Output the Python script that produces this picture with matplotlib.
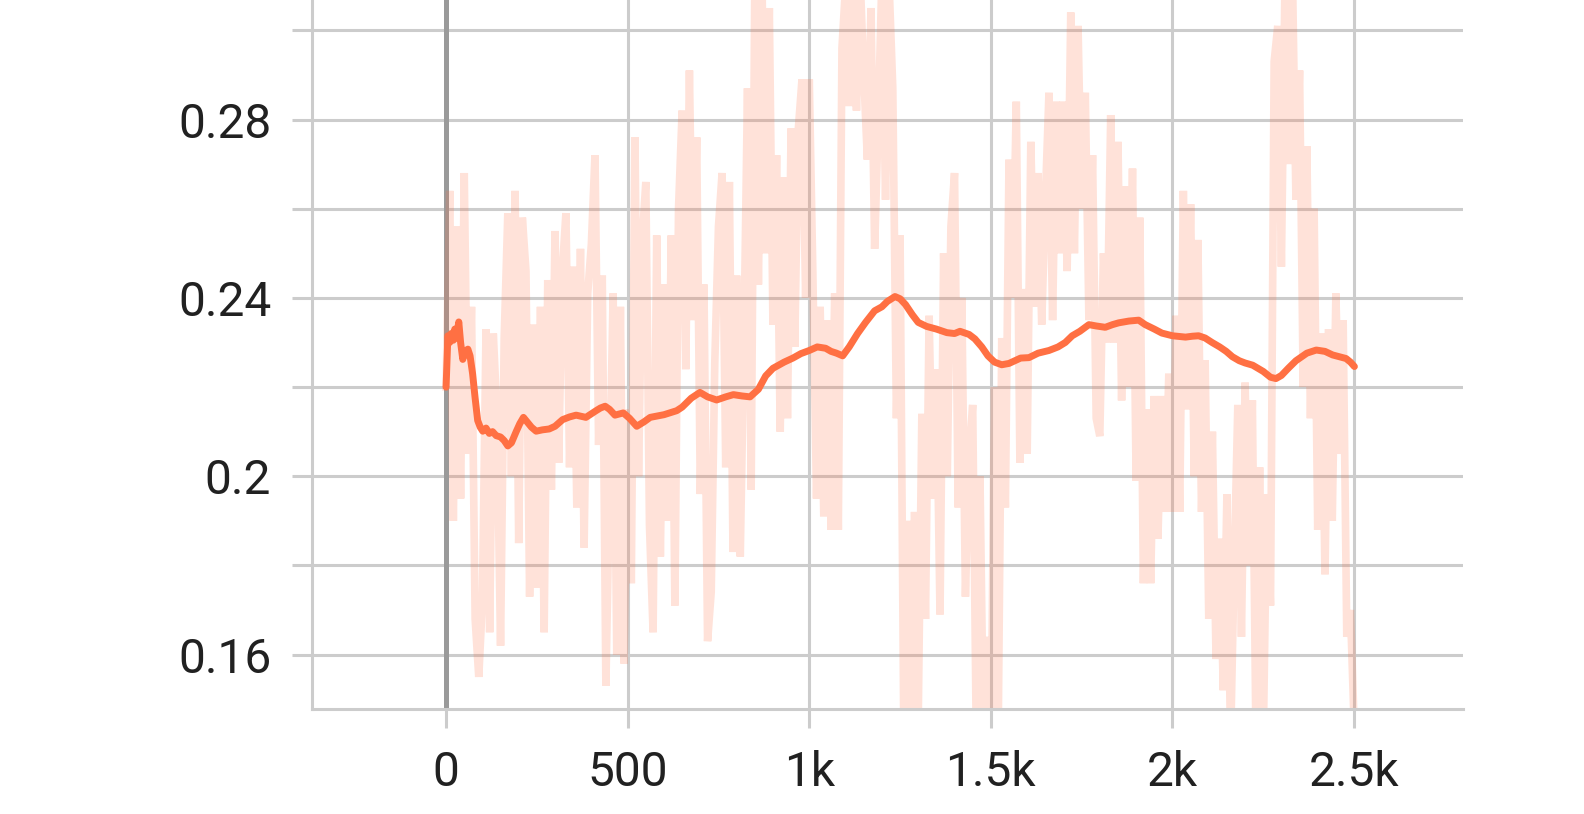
import numpy as np
import matplotlib.pyplot as plt

# Raw scalar values, one every 10 steps (0 .. 2500)
raw_steps = np.arange(0, 2510, 10)
raw_values = [
    0.220, 0.264, 0.190, 0.256, 0.195, 0.268, 0.205, 0.238, 0.168, 0.155,
    0.172, 0.233, 0.165, 0.232, 0.214, 0.162, 0.231, 0.259, 0.200, 0.264,
    0.185, 0.258, 0.246, 0.173, 0.234, 0.175, 0.238, 0.165, 0.244, 0.197,
    0.255, 0.203, 0.246, 0.259, 0.202, 0.247, 0.193, 0.251, 0.184, 0.241,
    0.252, 0.272, 0.207, 0.245, 0.153, 0.198, 0.241, 0.160, 0.238, 0.158,
    0.215, 0.176, 0.276, 0.200, 0.253, 0.266, 0.189, 0.165, 0.254, 0.182,
    0.243, 0.190, 0.254, 0.171, 0.260, 0.282, 0.224, 0.291, 0.235, 0.276,
    0.196, 0.243, 0.163, 0.174, 0.226, 0.256, 0.268, 0.202, 0.266, 0.183,
    0.245, 0.182, 0.230, 0.287, 0.197, 0.310, 0.243, 0.310, 0.250, 0.305,
    0.234, 0.272, 0.210, 0.267, 0.213, 0.278, 0.229, 0.278, 0.289, 0.240,
    0.289, 0.245, 0.195, 0.238, 0.191, 0.235, 0.188, 0.241, 0.188, 0.296,
    0.310, 0.283, 0.315, 0.282, 0.312, 0.290, 0.271, 0.305, 0.251, 0.280,
    0.312, 0.262, 0.310, 0.287, 0.213, 0.254, 0.145, 0.190, 0.140, 0.192,
    0.145, 0.214, 0.168, 0.236, 0.195, 0.224, 0.169, 0.250, 0.200, 0.256,
    0.268, 0.193, 0.240, 0.173, 0.205, 0.216, 0.140, 0.200, 0.140, 0.164,
    0.135, 0.220, 0.140, 0.231, 0.193, 0.271, 0.240, 0.284, 0.203, 0.242,
    0.205, 0.275, 0.238, 0.268, 0.234, 0.262, 0.286, 0.235, 0.284, 0.250,
    0.284, 0.246, 0.304, 0.250, 0.301, 0.260, 0.286, 0.235, 0.272, 0.213,
    0.209, 0.250, 0.230, 0.281, 0.230, 0.275, 0.217, 0.265, 0.220, 0.269,
    0.199, 0.258, 0.176, 0.215, 0.176, 0.218, 0.186, 0.218, 0.192, 0.223,
    0.192, 0.236, 0.192, 0.264, 0.215, 0.261, 0.200, 0.253, 0.192, 0.226,
    0.168, 0.210, 0.159, 0.186, 0.152, 0.196, 0.140, 0.180, 0.216, 0.164,
    0.221, 0.180, 0.217, 0.140, 0.202, 0.140, 0.196, 0.171, 0.293, 0.301,
    0.247, 0.312, 0.270, 0.315, 0.262, 0.291, 0.220, 0.274, 0.213, 0.260,
    0.188, 0.232, 0.178, 0.233, 0.190, 0.241, 0.205, 0.235, 0.164, 0.170,
    0.145,
]

# Smoothed curve
smooth_steps = [
    0, 5, 10, 14, 20, 24, 28, 35, 40, 46, 52, 60, 66, 73, 80, 87, 94, 101,
    110, 119, 128, 138, 150, 160, 170, 180, 193, 203, 213, 225, 235, 248,
    265, 284, 300, 321, 340, 358, 385, 400, 413, 425, 438, 450, 465, 488,
    505, 525, 545, 562, 600, 635, 650, 675, 699, 720, 745, 770, 791, 815,
    837, 860, 880, 900, 931, 955, 977, 1000, 1022, 1045, 1060, 1075, 1092,
    1110, 1133, 1155, 1180, 1200, 1215, 1236, 1250, 1265, 1284, 1300, 1323,
    1350, 1379, 1400, 1415, 1440, 1456, 1475, 1492, 1510, 1530, 1550, 1582,
    1605, 1630, 1660, 1685, 1705, 1724, 1745, 1770, 1790, 1815, 1835, 1852,
    1880, 1907, 1925, 1950, 1971, 2000, 2036, 2055, 2072, 2090, 2109, 2130,
    2148, 2165, 2184, 2200, 2221, 2250, 2270, 2285, 2300, 2320, 2340, 2370,
    2396, 2420, 2441, 2460, 2478, 2490, 2501,
]
smooth_values = [
    0.2200, 0.2315, 0.2300, 0.2320, 0.2305, 0.2330, 0.2310, 0.2346, 0.2300,
    0.2262, 0.2280, 0.2285, 0.2270, 0.2230, 0.2175, 0.2125, 0.2110, 0.2101,
    0.2108, 0.2096, 0.2100, 0.2091, 0.2088, 0.2080, 0.2068, 0.2075, 0.2100,
    0.2118, 0.2132, 0.2120, 0.2110, 0.2101, 0.2104, 0.2106, 0.2112, 0.2127,
    0.2133, 0.2137, 0.2132, 0.2140, 0.2147, 0.2153, 0.2157, 0.2150, 0.2137,
    0.2142, 0.2130, 0.2112, 0.2122, 0.2132, 0.2138, 0.2147, 0.2155, 0.2175,
    0.2188, 0.2178, 0.2171, 0.2178, 0.2183, 0.2180, 0.2178, 0.2195, 0.2225,
    0.2242, 0.2256, 0.2265, 0.2275, 0.2282, 0.2290, 0.2287, 0.2280, 0.2276,
    0.2270, 0.2290, 0.2320, 0.2345, 0.2371, 0.2380, 0.2392, 0.2403, 0.2398,
    0.2385, 0.2362, 0.2345, 0.2336, 0.2330, 0.2322, 0.2320, 0.2325, 0.2318,
    0.2308, 0.2290, 0.2270, 0.2256, 0.2250, 0.2253, 0.2265, 0.2266, 0.2276,
    0.2282, 0.2290, 0.2300, 0.2315, 0.2325, 0.2340, 0.2337, 0.2334, 0.2340,
    0.2344, 0.2348, 0.2350, 0.2340, 0.2330, 0.2321, 0.2315, 0.2312, 0.2314,
    0.2315, 0.2310, 0.2300, 0.2290, 0.2280, 0.2268, 0.2259, 0.2254, 0.2249,
    0.2235, 0.2222, 0.2219, 0.2226, 0.2243, 0.2259, 0.2276, 0.2283, 0.2280,
    0.2272, 0.2268, 0.2264, 0.2256, 0.2246,
]

x_ticks = [0, 500, 1000, 1500, 2000, 2500]
x_labels = ["0", "500", "1k", "1.5k", "2k", "2.5k"]
y_ticks = [0.16, 0.18, 0.20, 0.22, 0.24, 0.26, 0.28, 0.30]
y_labels = ["0.16", "", "0.2", "", "0.24", "", "0.28", ""]

orange = "#ff7043"
grid_c = "#cccccc"

plt.rcParams["font.family"] = ["Roboto", "DejaVu Sans"]

fig = plt.figure(figsize=(15.84, 8.14), dpi=100)
ax = fig.add_axes([311.7 / 1584, 105 / 814, (1463 - 311.7) / 1584, 709 / 814])

ax.set_xlim(-370, 2800)
ax.set_ylim(0.1478, 0.3068)

ax.set_xticks(x_ticks)
ax.set_xticklabels(x_labels)
ax.set_yticks(y_ticks)
ax.set_yticklabels(y_labels)

ax.grid(True, color=grid_c, linewidth=2.2, zorder=0)
ax.set_axisbelow(True)
ax.tick_params(axis="both", color=grid_c, width=2.2, labelsize=34.5,
               labelcolor="#212121")
ax.tick_params(axis="y", length=14.2, pad=15)
ax.tick_params(axis="x", length=13.7, pad=16)

for side in ["top", "right"]:
    ax.spines[side].set_visible(False)
for side in ["left", "bottom"]:
    ax.spines[side].set_color(grid_c)
    ax.spines[side].set_linewidth(2.2)

# zero line
ax.axvline(0, color="#9a9a9a", linewidth=3.6, zorder=1)

# raw + smoothed
ax.plot(raw_steps, raw_values, color=orange, alpha=0.2, linewidth=5.5,
        solid_joinstyle="bevel", zorder=2)
ax.plot(smooth_steps, smooth_values, color=orange, linewidth=5.0,
        solid_joinstyle="round", solid_capstyle="round", zorder=3)

fig.savefig("out.png", dpi=100, facecolor="white")
